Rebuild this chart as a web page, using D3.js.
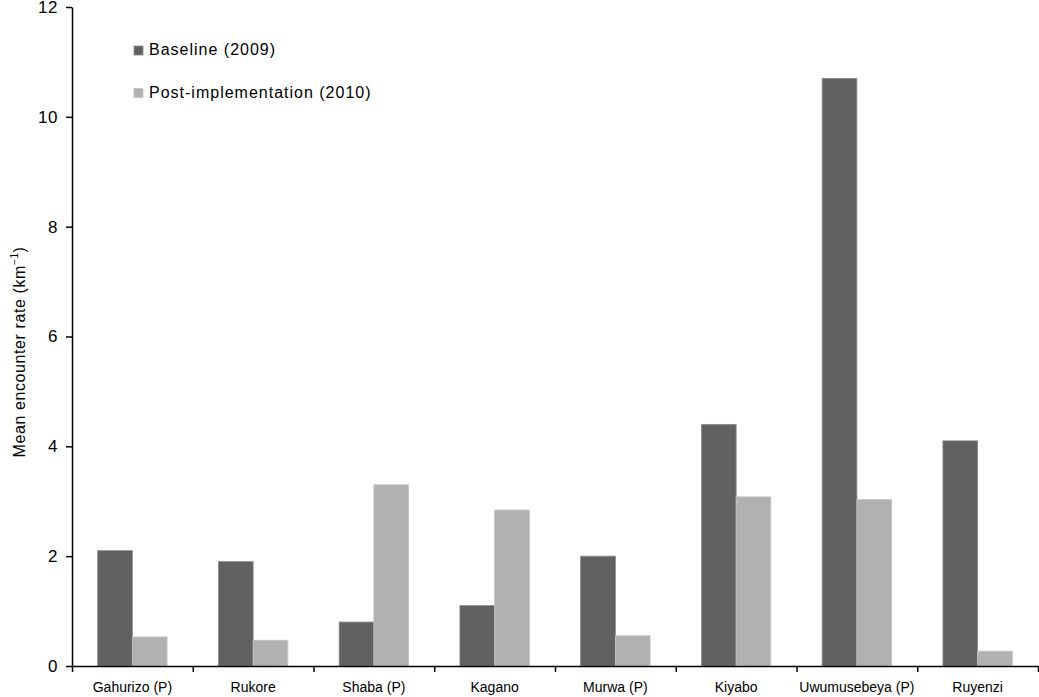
<!DOCTYPE html>
<html>
<head>
<meta charset="utf-8">
<script src="https://cdn.jsdelivr.net/npm/d3@7"></script>
<style>
  html, body { margin: 0; padding: 0; background: #fff; }
  svg { display: block; font-family: "Liberation Sans", Arial, sans-serif; }
</style>
</head>
<body>
<svg id="chart" width="1039" height="697"></svg>
<script>
const categories = ["Gahurizo (P)", "Rukore", "Shaba (P)", "Kagano", "Murwa (P)", "Kiyabo", "Uwumusebeya (P)", "Ruyenzi"];
const seriesNames = ["Baseline (2009)", "Post-implementation (2010)"];
const baseline2009 = [2.1, 1.9, 0.8, 1.1, 2.0, 4.4, 10.7, 4.1];
const post2010 = [0.53, 0.47, 3.3, 2.84, 0.55, 3.08, 3.03, 0.27];
const yTicks = [0, 2, 4, 6, 8, 10, 12];
const colors = ["#616161", "#b1b1b1"];

(function () {
const svg = d3.select("#chart");
const mLeft = 72, mRight = 1038, mTop = 7, mBottom = 666;

const y = d3.scaleLinear().domain([0, 12]).range([mBottom, mTop]);
const x0 = d3.scaleBand().domain(categories).range([mLeft, mRight]).paddingInner(0.425).paddingOuter(0.2125);
const x1 = d3.scaleBand().domain(seriesNames).range([0, x0.bandwidth()]);
const xb = d3.scaleLinear().domain([0, categories.length]).range([mLeft, mRight]);

const data = categories.map((c, i) => ({ cat: c, vals: [baseline2009[i], post2010[i]] }));

// bars
const g = svg.append("g");
data.forEach(d => {
  d.vals.forEach((v, j) => {
    g.append("rect")
      .attr("x", x0(d.cat) + x1(seriesNames[j]))
      .attr("y", y(v))
      .attr("width", x1.bandwidth())
      .attr("height", y(0) - y(v))
      .attr("fill", colors[j])
      .attr("stroke", j === 0 ? "#8a8a8a" : "#c4c4c4")
      .attr("stroke-width", 0.8);
  });
});

// y axis
const yAxis = svg.append("g")
  .attr("transform", `translate(${mLeft},0)`)
  .call(d3.axisLeft(y).tickValues(yTicks).tickSize(6).tickSizeOuter(0).tickPadding(8).tickFormat(d3.format("d")));
yAxis.selectAll("text").attr("font-size", 17).attr("letter-spacing", 0.6).attr("fill", "#000").attr("font-family", "Liberation Sans, Arial, sans-serif");
yAxis.selectAll("line").attr("stroke", "#000").attr("stroke-width", 1.5);
yAxis.select(".domain").attr("stroke", "#000").attr("stroke-width", 1.5);

// x axis: boundary ticks
const xAxisTicks = svg.append("g")
  .attr("transform", `translate(0,${mBottom})`)
  .call(d3.axisBottom(xb).tickValues(d3.range(0, categories.length + 1)).tickSize(6).tickSizeOuter(0).tickFormat(""));
xAxisTicks.selectAll("line").attr("stroke", "#000").attr("stroke-width", 1.5);
xAxisTicks.select(".domain").attr("stroke", "#000").attr("stroke-width", 1.5);

// x axis labels
const xLabels = svg.append("g")
  .attr("transform", `translate(0,${mBottom})`)
  .call(d3.axisBottom(x0).tickSize(0).tickPadding(16));
xLabels.select(".domain").remove();
xLabels.selectAll("text").attr("font-size", 14).attr("fill", "#000").attr("font-family", "Liberation Sans, Arial, sans-serif");

// y axis title
const yt = svg.append("text")
  .attr("transform", `translate(25,352) rotate(-90)`)
  .attr("text-anchor", "middle")
  .attr("font-size", 16)
  .attr("letter-spacing", 0.6)
  .attr("fill", "#000");
yt.append("tspan").text("Mean encounter rate (km");
yt.append("tspan").attr("dy", -7).attr("font-size", 10).text("−1");
yt.append("tspan").attr("dy", 7).text(")");

// legend
const legend = svg.append("g");
seriesNames.forEach((s, i) => {
  const ly = 55 + i * 42.5;
  legend.append("rect").attr("x", 134).attr("y", ly - 9).attr("width", 9).attr("height", 9)
    .attr("fill", colors[i]).attr("stroke", i === 0 ? "#8a8a8a" : "#c4c4c4").attr("stroke-width", 0.8);
  legend.append("text").attr("x", 149).attr("y", ly).attr("font-size", 16).attr("letter-spacing", 1)
    .attr("fill", "#000").text(s);
});
})();
</script>
</body>
</html>
